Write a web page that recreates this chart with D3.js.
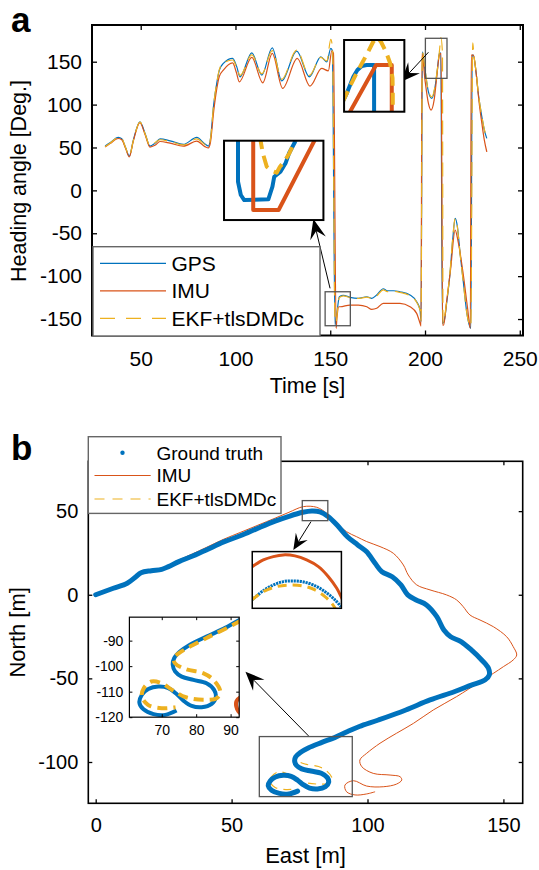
<!DOCTYPE html>
<html><head><meta charset="utf-8">
<script src="https://cdn.jsdelivr.net/npm/d3@7"></script>
<style>body{margin:0;background:#fff}svg{display:block}</style>
</head><body><svg id="c" width="539" height="870"></svg>
<script>
// ---------- DATA: panel a (time [s], heading [deg]) ----------
const aTimeTicks = [50, 100, 150, 200, 250];
const aHeadingTicks = [-150, -100, -50, 0, 50, 100, 150];
const gpsHeading = [[31.2,51.6],[33.8,55.5],[38.2,61.8],[40,60.1],[42,50],[44,40],[46.1,58.6],[49.6,80],[52.3,66.4],[54.9,51.6],[57.5,54.8],[60.2,60.1],[65.5,57.8],[72.5,53.6],[79.6,61.8],[83.9,54],[85.7,51.6],[86.8,60],[88.5,100],[90.1,124.7],[91.5,140.2],[93.6,148],[98.5,153.8],[100.7,144],[102.4,132.4],[108.6,160.4],[113.9,134.4],[119.4,166.2],[124.4,127.7],[132.3,162.4],[139,132.4],[145,155.7],[148.2,149.9],[150.3,165.5],[151.1,163],[152.5,-157],[153.7,-139.5],[154.8,-124],[156.9,-122.4],[160.4,-124.7],[164.8,-125.9],[169.3,-124],[171.9,-125.9],[174.5,-122],[178,-114.7],[180.1,-117],[183.3,-117],[186.8,-118.2],[192.1,-122],[195.6,-129.8],[197.4,-139.5],[197.9,-153.1],[198.6,161.5],[200,140.2],[201.8,114.9],[203.6,107.2],[205.3,120.7],[206.5,140.2],[207.6,159.7],[208.3,160.4],[209.2,-155],[210,-153.1],[211.4,-131.7],[213.2,-96.7],[214.6,-57.9],[215.9,-32.6],[217.1,-42.4],[218.5,-73.4],[220.3,-108.4],[222.1,-143.4],[224.2,-160.8],[224.9,157.7],[225.5,157.7],[226.8,140.2],[228.1,113],[230,85.8],[231.3,70.3],[232.6,60.6]];
const imuHeading = [[31.2,50.5],[33.8,54.5],[38.2,60.5],[40,59],[42,49],[44,39],[46.1,57.5],[49.6,79],[52.3,65],[54.9,50.5],[57.5,52.5],[60.2,57],[65.5,55],[72.5,51.5],[79.6,57.5],[83.9,51],[85.7,49.5],[86.8,56],[88.5,92],[90.1,118],[91.5,133],[93.6,140.2],[98.5,148.7],[100.4,138],[102,126.6],[108.6,155],[114.4,125.4],[119.4,159.7],[124.9,118.9],[132.6,153.8],[139.3,121.6],[145.5,142.2],[149,139.4],[150.8,162.7],[151.7,160],[153.1,-160.8],[153.5,-150],[154.5,-135.7],[155.2,-135.7],[160.4,-133.7],[164.8,-133.7],[169.3,-135.7],[171.9,-138.7],[174.5,-137.5],[178,-131.7],[183.3,-131.7],[186.8,-131.7],[192.1,-135.7],[195.6,-143.4],[197.4,-155],[197.9,-158.2],[198.4,159.7],[200,128.6],[201.8,101.4],[203.2,93.6],[204.8,105.2],[206.2,132.4],[207.6,157.7],[208.5,159.7],[209.3,-157],[209.8,-157],[211.5,-128],[213.5,-92],[215.9,-46.3],[217.5,-60],[220,-95],[222.5,-138],[223.9,-160.8],[224.4,157.7],[225.5,157.7],[227,136.4],[228.6,101.4],[230,78.1],[231.3,58.6],[232.6,45]];
const ekfHeading = [[31.2,51],[33.8,55],[38.2,61.5],[40,60.5],[42,50],[44,40.5],[46.1,58],[49.6,79.5],[52.3,66],[54.9,52],[57.5,55.5],[60.2,59],[65.5,57],[72.5,53],[79.6,60],[83.9,53.5],[85.7,52],[86.8,60],[88.5,100],[90.1,125],[91.5,141],[93.6,148.5],[98.5,152],[100.7,143],[102.4,134],[108.6,158],[113.9,136],[119.4,163],[124.4,129.5],[132.3,163.5],[139,134],[145,155],[148.2,151],[150.3,176],[151.2,165],[152.5,-152],[153.1,-153.6],[153.7,-142],[154.8,-125],[156.9,-123],[160.4,-125],[164.8,-126],[169.3,-124.5],[171.9,-126],[174.5,-123],[178,-116],[180.1,-118],[183.3,-117.5],[186.8,-119],[192.1,-123],[195.6,-130.5],[197.4,-140],[197.9,-152],[198.6,162],[200,141],[201.8,116],[203.6,109],[205.3,122],[206.5,141],[207.6,162],[208.4,178],[209.2,160],[209.5,-155],[210,-151],[211.4,-130],[213.2,-95],[214.6,-56],[215.9,-33],[217.1,-43],[218.5,-74],[220.3,-109],[222.1,-144],[224.2,-158],[225.2,172],[225.7,160],[226.8,141],[228.1,114],[230,86],[231.3,71],[232.6,61]];
// zoomed views in panel a
const zoomA1Gps = [[151.563,-146],[151.563,-155.24],[151.676,-157.58],[151.813,-158.47],[152.783,-158.34],[152.948,-156.12],[153.02,-154.36],[153.27,-153.47],[153.475,-151.99],[153.616,-150.22],[153.861,-148.18],[153.95,-147]];
const zoomA1Imu = [[152.175,-146],[152.175,-160.23],[153.197,-160.23],[154.72,-147.3]];
const zoomA1Ekf = [[152.44,-147.2],[152.56,-150.2],[152.72,-152.6],[152.92,-153.3],[153.12,-153.65],[153.25,-152.6],[153.42,-151.7],[153.63,-150.2],[153.86,-148],[153.92,-147.2]];
const zoomA2Gps = [[207.57,153.2],[207.645,156.42],[207.7,159.31],[207.754,162.2],[207.821,164.54],[207.894,165.93],[207.976,166.28],[208.098,166.28],[208.098,148]];
const zoomA2Imu = [[207.683,149.4],[208.131,166.28],[208.391,166.28],[208.391,148]];
const zoomA2Ekf = [[207.578,153.38],[207.7,158.96],[207.799,163.14],[207.899,166.98],[207.998,170.82],[208.081,174.3],[208.147,176.05],[208.214,174.3],[208.297,170.82],[208.363,166.98],[208.404,161.75],[208.408,155.82],[208.408,148]];

// ---------- DATA: panel b (East [m], North [m]) ----------
const bEastTicks = [0, 50, 100, 150];
const bNorthTicks = [-100, -50, 0, 50];
const groundTruth = [[0,0],[6.5,3.9],[11.6,6.9],[14.8,10.8],[16.7,13.2],[20.5,14.4],[24.3,15.2],[26.8,16.8],[30.6,19.8],[35.7,23.2],[40.7,26.8],[47.1,31.6],[53.4,35.4],[59.7,39.8],[66,44],[71.1,46.9],[76.2,49.3],[79.5,50.1],[82.5,49.6],[85.6,46.7],[88.8,41.7],[92.6,34.7],[96.4,29.8],[99.6,25.8],[102.8,18.8],[105.3,13.8],[109.1,10.8],[112.3,5.9],[114.8,-0.1],[117.9,-3.1],[121.7,-6.1],[125.5,-13.1],[128.1,-21.1],[130.6,-25.1],[134.4,-28],[138.2,-33],[142,-39],[144.5,-44],[144.8,-48],[143.2,-51],[138.2,-54],[131.9,-58],[123,-62.9],[114.1,-68.9],[104,-74.9],[97,-78.8],[92.7,-81.8],[87.9,-85.4],[83,-88.4],[78.2,-91.6],[75.3,-94.3],[73.6,-96.9],[73.2,-99.5],[73.9,-102.1],[75.8,-104.1],[79.2,-105.4],[83,-106.7],[85.2,-109.3],[85.7,-112.2],[84.5,-114.8],[81.6,-116.1],[78.7,-115.6],[76.3,-113.5],[74.3,-110.9],[71.9,-108.6],[69,-108],[66.1,-109],[64.2,-111.3],[63.5,-114.3],[64.7,-116.9],[67.6,-118.8],[71,-119.1],[74.3,-117.4]];
const imuTrack = [[0,0],[6.5,4.2],[11.6,7.4],[14.8,11.4],[16.7,13.8],[20.5,15],[24.3,16],[26.8,17.7],[30.6,20.8],[35.7,24.5],[40.7,28.3],[47.1,33.2],[53.4,37.4],[59.7,41.6],[66,45.8],[71.1,49.3],[76.4,52.7],[81.3,52.3],[85,48.7],[88.7,42.8],[92.3,37.7],[96,34.7],[99.7,31.8],[104.6,28.8],[109.5,24.8],[113.2,17.8],[115,11.8],[118.1,5.9],[123,2.9],[129.1,-0.1],[132.8,-3.1],[135.2,-7.1],[137.7,-12.1],[141.4,-15.1],[146.3,-19.1],[151.2,-25.1],[153.6,-31],[154.9,-36],[153.6,-39],[150,-43],[146.3,-47],[141.4,-52],[132.8,-60.9],[124.2,-68.9],[116.9,-76.9],[110.7,-82.8],[104.6,-88.8],[99.7,-94.8],[97.2,-98.8],[97.9,-102.8],[102.1,-106.8],[108.3,-107.8],[112,-108.8],[112.6,-110.8],[110.7,-113.2],[105.8,-114.8],[99.7,-114.4],[94.8,-111.2],[91.7,-113.8],[92.3,-117.8],[95.4,-119.7],[99.7,-119.1],[102.8,-117.8]];
const ekfTrack = [[0,0],[6.5,3.7],[11.6,6.7],[14.8,10.5],[16.7,12.9],[20.5,14.1],[24.3,15],[26.8,16.6],[30.6,19.5],[35.7,22.9],[40.7,26.5],[47.1,31.2],[53.4,35],[59.7,39.4],[66,43.6],[71.1,46.5],[76.2,48.9],[79.5,49.7],[82.5,49.2],[85.6,46.3],[88.8,41.3],[92.6,34.4],[96.4,29.5],[99.6,25.5],[102.8,18.6],[105.3,13.5],[109.1,10.4],[112.3,5.6],[114.8,-0.4],[117.9,-3.4],[121.7,-6.4],[125.5,-13.4],[128.1,-21.4],[130.6,-25.4],[134.4,-28.4],[138.2,-33.4],[142,-39.4],[144.2,-44],[144.4,-47.8],[143,-50.6],[138.2,-53.6],[131.9,-57.6],[123,-62.5],[114.1,-68.4],[104,-74.4],[97,-78.4],[92.5,-82.5],[83,-89],[75,-94.9],[73.5,-96.9],[73.8,-98.8],[77,-101.2],[82,-102.7],[85,-105.4],[87,-110],[86,-112.5],[82,-113.2],[77,-112.2],[73,-109.3],[70,-106.7],[67,-106],[64.8,-108.6],[64.2,-111.9],[66,-115.2],[70,-116.5],[74,-116.1]];
const zoomB1Imu = [[75.8,51.65],[76,51.76],[77.24,52.49],[78.36,52.85],[79.48,53.04],[80.79,52.93],[82.1,52.49],[83.42,51.76],[84.54,50.66],[85.48,49.39],[85.96,48.48],[86.1,48.2]];
const zoomB1Gt = [[75.9,48.05],[77.24,49.13],[78.36,49.75],[79.48,50.12],[80.42,50.19],[81.54,50.12],[82.85,49.75],[84.16,49.02],[85.29,48.11],[85.96,47.38]];
const zoomB1Ekf = [[75.9,48.1],[77.24,49.02],[78.73,49.57],[80.23,49.75],[81.73,49.64],[83.04,49.21],[84.16,48.48],[84.91,47.75],[85.29,47.2],[85.4,46.9]];
const insetEastTicks = [70, 80, 90];
const insetNorthTicks = [-120, -110, -100, -90];

const legendA = ["GPS", "IMU", "EKF+tlsDMDc"];
const legendB = ["Ground truth", "IMU", "EKF+tlsDMDc"];

// ---------- STYLE / LAYOUT ----------
const FONT = '"Liberation Sans", Arial, Helvetica, sans-serif';
const BLUE = "#0072BD", RED = "#D95319", YEL = "#EDB120";
const svg = d3.select("#c");
const defs = svg.append("defs");
let clipN = 0;
function clip(x, y) {
  const id = "cl" + (clipN++);
  defs.append("clipPath").attr("id", id).append("rect")
    .attr("x", x.range()[0]).attr("y", y.range()[1])
    .attr("width", x.range()[1] - x.range()[0]).attr("height", y.range()[0] - y.range()[1]);
  return `url(#${id})`;
}
function frame(g, x, y, o) {
  const [x0, x1] = x.range(), [y0, y1] = y.range();
  const fmt = d => String(d);
  const axes = [
    g.append("g").attr("transform", `translate(0,${y0})`).call(d3.axisBottom(x).tickValues(o.xt).tickSize(-o.tl).tickPadding(o.xpad).tickFormat(fmt)),
    g.append("g").attr("transform", `translate(${x0},0)`).call(d3.axisLeft(y).tickValues(o.yt).tickSize(-o.tl).tickPadding(o.ypad).tickFormat(fmt)),
    g.append("g").attr("transform", `translate(0,${y1})`).call(d3.axisTop(x).tickValues(o.xt).tickSize(-o.tl).tickFormat("")),
    g.append("g").attr("transform", `translate(${x1},0)`).call(d3.axisRight(y).tickValues(o.yt).tickSize(-o.tl).tickFormat(""))
  ];
  axes.forEach(a => {
    a.select(".domain").remove();
    a.selectAll(".tick line").attr("stroke", "#000").attr("stroke-width", o.tw);
    a.selectAll("text").attr("font-size", o.fs).attr("font-family", FONT).attr("fill", "#000");
  });
  g.append("rect").attr("x", x0).attr("y", y1).attr("width", x1 - x0).attr("height", y0 - y1)
    .attr("fill", "none").attr("stroke", "#000").attr("stroke-width", o.bw);
}
function path(g, data, x, y, o) {
  const line = d3.line().x(d => x(d[0])).y(d => y(d[1])).curve(o.curve || d3.curveLinear);
  g.append("path").datum(data).attr("d", line).attr("fill", "none")
    .attr("stroke", o.c).attr("stroke-width", o.w)
    .attr("stroke-dasharray", o.dash || null)
    .attr("stroke-linejoin", "round").attr("stroke-linecap", o.cap || "butt")
    .attr("clip-path", o.clip || null);
}
function boxRect(g, x, y, xs, ys, o) {
  g.append("rect").attr("x", x(xs[0])).attr("y", y(ys[1]))
    .attr("width", x(xs[1]) - x(xs[0])).attr("height", y(ys[0]) - y(ys[1]))
    .attr("fill", o.fill || "none").attr("stroke", o.stroke).attr("stroke-width", o.w);
}
function arrow(g, x1, y1, x2, y2, len, hw) {
  const dx = x2 - x1, dy = y2 - y1, L = Math.hypot(dx, dy), ux = dx / L, uy = dy / L, nx = -uy, ny = ux;
  const bx = x2 - ux * len, by = y2 - uy * len, mx = x2 - ux * len * 0.62, my = y2 - uy * len * 0.62;
  g.append("line").attr("x1", x1).attr("y1", y1).attr("x2", mx).attr("y2", my).attr("stroke", "#000").attr("stroke-width", 1);
  g.append("polygon").attr("points", [[x2, y2], [bx + nx * hw, by + ny * hw], [mx, my], [bx - nx * hw, by - ny * hw]].map(p => p.join(",")).join(" ")).attr("fill", "#000");
}
function text(g, s, x, y, o) {
  const t = g.append("text").attr("x", x).attr("y", y).text(s)
    .attr("font-family", FONT).attr("font-size", o.fs).attr("fill", "#000")
    .attr("text-anchor", o.anchor || "start").attr("font-weight", o.bold ? "bold" : null);
  if (o.rot) t.attr("transform", `rotate(${o.rot},${x},${y})`);
  return t;
}

// ================= PANEL A =================
const gA = svg.append("g");
const xA = d3.scaleLinear().domain([24.3, 251.7]).range([92, 523]);
const yA = d3.scaleLinear().domain([-169.2, 192.8]).range([335.5, 25]);
const cA = clip(xA, yA);
path(gA, gpsHeading, xA, yA, { c: BLUE, w: 1.2, clip: cA, curve: d3.curveMonotoneX });
path(gA, imuHeading, xA, yA, { c: RED, w: 1.2, clip: cA, curve: d3.curveMonotoneX });
path(gA, ekfHeading, xA, yA, { c: YEL, w: 1.2, dash: "14,7", clip: cA, curve: d3.curveMonotoneX });
frame(gA, xA, yA, { xt: aTimeTicks, yt: aHeadingTicks, tl: 5, tw: 1.3, bw: 2, fs: 21, xpad: 16, ypad: 10 });

// zoom rectangles + arrows
boxRect(gA, xA, yA, [147.3, 160.6], [-157.8, -118.2], { stroke: "#555", w: 1.3 });
boxRect(gA, xA, yA, [200.2, 211.6], [130.6, 177.3], { stroke: "#555", w: 1.3 });
arrow(gA, xA(149.9), yA(-114.2), xA(141.1), yA(-33.4), 20, 8);
arrow(gA, xA(201.8), yA(161), xA(187.4), yA(126.7), 19, 8);

// inset a1
const xA1 = d3.scaleLinear().domain([151, 155]).range([xA(93.96), xA(146.4)]);
const yA1 = d3.scaleLinear().domain([-162, -148]).range([yA(-34.6), yA(57.9)]);
boxRect(gA, xA1, yA1, [151, 155], [-162, -148], { fill: "#fff", stroke: "none", w: 0 });
const cA1 = clip(xA1, yA1);
path(gA, zoomA1Gps, xA1, yA1, { c: BLUE, w: 4, clip: cA1 });
path(gA, zoomA1Imu, xA1, yA1, { c: RED, w: 4, clip: cA1 });
path(gA, zoomA1Ekf, xA1, yA1, { c: YEL, w: 4, dash: "13,7", clip: cA1 });
boxRect(gA, xA1, yA1, [151, 155], [-162, -148], { stroke: "#000", w: 2 });

// inset a2
const xA2 = d3.scaleLinear().domain([207.6, 208.6]).range([xA(157.3), xA(189.1)]);
const yA2 = d3.scaleLinear().domain([150, 175]).range([yA(91.7), yA(175.3)]);
boxRect(gA, xA2, yA2, [207.6, 208.6], [150, 175], { fill: "#fff", stroke: "none", w: 0 });
const cA2 = clip(xA2, yA2);
path(gA, zoomA2Gps, xA2, yA2, { c: BLUE, w: 4, clip: cA2 });
path(gA, zoomA2Imu, xA2, yA2, { c: RED, w: 4, clip: cA2 });
path(gA, zoomA2Ekf, xA2, yA2, { c: YEL, w: 4, dash: "12,7", clip: cA2 });
boxRect(gA, xA2, yA2, [207.6, 208.6], [150, 175], { stroke: "#000", w: 2 });

// legend a
const legA = gA.append("g");
legA.append("rect").attr("x", 93).attr("y", 246.7).attr("width", 227).attr("height", 89.3)
  .attr("fill", "#fff").attr("stroke", "#666").attr("stroke-width", 1.4);
const legAStyle = [{ c: BLUE }, { c: RED }, { c: YEL, dash: "15,11" }];
legendA.forEach((s, i) => {
  const yy = 263.3 + i * 27.5;
  legA.append("line").attr("x1", 100).attr("x2", 166).attr("y1", yy).attr("y2", yy)
    .attr("stroke", legAStyle[i].c).attr("stroke-width", 1.2).attr("stroke-dasharray", legAStyle[i].dash || null);
  text(legA, s, 171.5, yy + 7.5, { fs: 21 });
});
text(gA, "Time [s]", (xA.range()[0] + xA.range()[1]) / 2, 393, { fs: 21.5, anchor: "middle" });
text(gA, "Heading angle [Deg.]", 26, 181, { fs: 21.5, anchor: "middle", rot: -90 });
text(gA, "a", 11, 31.5, { fs: 35, bold: true });

// ================= PANEL B =================
const gB = svg.append("g");
const xB = d3.scaleLinear().domain([-2.72, 157.1]).range([88.3, 522.7]);
const yB = d3.scaleLinear().domain([-124.7, 79.8]).range([803.3, 461.3]);
const cB = clip(xB, yB);
const cr = d3.curveCatmullRom.alpha(0.5);
path(gB, imuTrack, xB, yB, { c: RED, w: 1, clip: cB, curve: cr });
path(gB, ekfTrack, xB, yB, { c: YEL, w: 1.2, dash: "8,6", clip: cB, curve: cr });
path(gB, groundTruth, xB, yB, { c: BLUE, w: 5, clip: cB, curve: cr, cap: "round" });
frame(gB, xB, yB, { xt: bEastTicks, yt: bNorthTicks, tl: 4, tw: 1.3, bw: 1.6, fs: 20, xpad: 15, ypad: 10 });

boxRect(gB, xB, yB, [76.0, 85.4], [44.3, 56.3], { stroke: "#555", w: 1.3 });
boxRect(gB, xB, yB, [60.2, 94.4], [-120.7, -84.8], { stroke: "#555", w: 1.3 });
arrow(gB, xB(79.2), yB(43.7), xB(72.7), yB(26.8), 16, 7);
arrow(gB, xB(78.3), yB(-84.4), xB(55.1), yB(-46), 19, 8);

// inset b1
const xB1 = d3.scaleLinear().domain([76, 86]).range([xB(57.6), xB(90.4)]);
const yB1 = d3.scaleLinear().domain([47.2, 53.4]).range([yB(-8.1), yB(25.8)]);
boxRect(gB, xB1, yB1, [76, 86], [47.2, 53.4], { fill: "#fff", stroke: "none", w: 0 });
const cB1 = clip(xB1, yB1);
path(gB, zoomB1Imu, xB1, yB1, { c: RED, w: 3, clip: cB1, curve: cr });
path(gB, zoomB1Gt, xB1, yB1, { c: BLUE, w: 3, dash: "2.2,0.8", clip: cB1, curve: cr });
path(gB, zoomB1Ekf, xB1, yB1, { c: YEL, w: 3, dash: "9,6", clip: cB1, curve: cr });
boxRect(gB, xB1, yB1, [76, 86], [47.2, 53.4], { stroke: "#000", w: 1.5 });

// inset b2 (axes)
const xB2 = d3.scaleLinear().domain([60.6, 92.5]).range([xB(12.4), xB(52.8)]);
const yB2 = d3.scaleLinear().domain([-120, -80.8]).range([yB(-73.2), yB(-13.4)]);
const gB2 = gB.append("g");
boxRect(gB2, xB2, yB2, [60.6, 92.5], [-120, -80.8], { fill: "#fff", stroke: "none", w: 0 });
const cB2 = clip(xB2, yB2);
path(gB2, groundTruth, xB2, yB2, { c: BLUE, w: 4, clip: cB2, curve: cr });
path(gB2, imuTrack, xB2, yB2, { c: RED, w: 4, clip: cB2, curve: cr });
path(gB2, ekfTrack, xB2, yB2, { c: YEL, w: 4, dash: "10,6", clip: cB2, curve: cr });
frame(gB2, xB2, yB2, { xt: insetEastTicks, yt: insetNorthTicks, tl: 3, tw: 1, bw: 1.2, fs: 14, xpad: 8, ypad: 6 });

// legend b
const legB = gB.append("g");
legB.append("rect").attr("x", 88.3).attr("y", 436.7).attr("width", 192.7).attr("height", 76.7)
  .attr("fill", "#fff").attr("stroke", "#666").attr("stroke-width", 1.4);
[452.7, 475.5, 499].forEach((yy, i) => {
  if (i === 0) legB.append("circle").attr("cx", 122.5).attr("cy", yy).attr("r", 2.2).attr("fill", BLUE);
  else legB.append("line").attr("x1", 94.5).attr("x2", 150.7).attr("y1", yy).attr("y2", yy)
    .attr("stroke", i === 1 ? RED : YEL).attr("stroke-width", 1.1).attr("stroke-dasharray", i === 2 ? "10,8" : null);
  text(legB, legendB[i], 156.5, yy + 6.8, { fs: 19 });
});
text(gB, "East [m]", (xB.range()[0] + xB.range()[1]) / 2, 863, { fs: 22, anchor: "middle" });
text(gB, "North [m]", 25, 632.3, { fs: 22, anchor: "middle", rot: -90 });
text(gB, "b", 11, 460, { fs: 35, bold: true });
</script></body></html>
